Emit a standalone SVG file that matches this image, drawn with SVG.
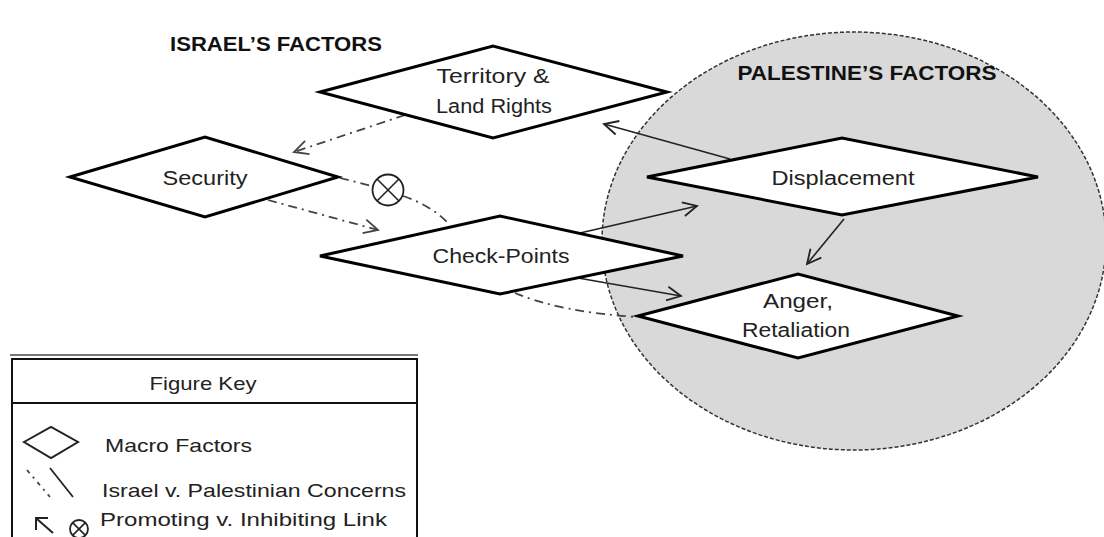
<svg xmlns="http://www.w3.org/2000/svg" width="1104" height="537" viewBox="0 0 1104 537">
<defs>
<style>
.node{fill:#fff;stroke:#000;stroke-width:3;stroke-linejoin:miter}
.lbl{font-family:"Liberation Sans",Arial,sans-serif;font-size:20px;fill:#222;text-anchor:middle}
.ttl{font-family:"Liberation Sans",Arial,sans-serif;font-size:21px;font-weight:bold;fill:#111;text-anchor:middle}
.key{font-family:"Liberation Sans",Arial,sans-serif;font-size:19px;fill:#222}
.solid{fill:none;stroke:#222;stroke-width:1.6}
.dd{fill:none;stroke:#444;stroke-width:1.8;stroke-dasharray:9,5,2,5}
</style>
<marker id="ah" markerUnits="userSpaceOnUse" markerWidth="20" markerHeight="20" refX="15" refY="8" orient="auto" viewBox="0 0 20 16">
<path d="M1,1 L15,8 L1,15" fill="none" stroke="#222" stroke-width="1.8"/>
</marker>
<marker id="ahd" markerUnits="userSpaceOnUse" markerWidth="20" markerHeight="20" refX="15" refY="8" orient="auto" viewBox="0 0 20 16">
<path d="M1,1 L15,8 L1,15" fill="none" stroke="#444" stroke-width="1.8"/>
</marker>
</defs>
<rect width="1104" height="537" fill="#fff"/>

<g id="palestine-region">
<ellipse cx="854" cy="241" rx="252" ry="209" fill="#d9d9d9" stroke="#333" stroke-width="1.5" stroke-dasharray="4,2"/>
</g>

<g id="titles">
<text class="ttl" x="276" y="51" textLength="212" lengthAdjust="spacingAndGlyphs">ISRAEL’S FACTORS</text>
<text class="ttl" x="867" y="80" textLength="259" lengthAdjust="spacingAndGlyphs">PALESTINE’S FACTORS</text>
</g>

<g id="connectors">
<path class="dd" d="M405,115 L294,152" marker-end="url(#ahd)"/>
<path class="dd" d="M268,200 L378,230" marker-end="url(#ahd)"/>
<path class="dd" d="M340,178 L372,186"/>
<path class="dd" d="M403,196 Q430,205 447,222"/>
<path class="dd" d="M515,293 Q560,312 637,317"/>
<path class="solid" d="M580,233 L697,206" marker-end="url(#ah)"/>
<path class="solid" d="M578,278 L681,296" marker-end="url(#ah)"/>
<path class="solid" d="M730,159 L604,124" marker-end="url(#ah)"/>
<path class="solid" d="M844,219 L807,264" marker-end="url(#ah)"/>
<g id="inhibit">
<circle cx="388" cy="190" r="15.5" fill="#fff" stroke="#222" stroke-width="1.8"/>
<path d="M377,179 L399,201 M399,179 L377,201" stroke="#222" stroke-width="1.6"/>
</g>
</g>

<g id="territory">
<polygon class="node" points="320,92 493,46 667,92 493,138"/>
<text class="lbl" x="493" y="83" textLength="113" lengthAdjust="spacingAndGlyphs">Territory &amp;</text>
<text class="lbl" x="494" y="113" textLength="116" lengthAdjust="spacingAndGlyphs">Land Rights</text>
</g>

<g id="security">
<polygon class="node" points="70,177 205,137 338,177 205,217"/>
<text class="lbl" x="205" y="185" textLength="85" lengthAdjust="spacingAndGlyphs">Security</text>
</g>

<g id="checkpoints">
<polygon class="node" points="320,256 500,216 683,256 500,294"/>
<text class="lbl" x="501" y="263" textLength="137" lengthAdjust="spacingAndGlyphs">Check-Points</text>
</g>

<g id="displacement">
<polygon class="node" points="647,177 842,138 1038,177 842,215"/>
<text class="lbl" x="843" y="185" textLength="143" lengthAdjust="spacingAndGlyphs">Displacement</text>
</g>

<g id="anger">
<polygon class="node" points="638,316 798,274 958,316 798,358"/>
<text class="lbl" x="798" y="308" textLength="70" lengthAdjust="spacingAndGlyphs">Anger,</text>
<text class="lbl" x="796" y="337" textLength="108" lengthAdjust="spacingAndGlyphs">Retaliation</text>
</g>

<g id="figure-key">
<line x1="10" y1="355" x2="418" y2="355" stroke="#777" stroke-width="2"/>
<rect x="12" y="359" width="405" height="190" fill="#fff" stroke="#111" stroke-width="2"/>
<line x1="12" y1="403" x2="417" y2="403" stroke="#111" stroke-width="2"/>
<text class="key" x="203" y="390" text-anchor="middle" textLength="107" lengthAdjust="spacingAndGlyphs">Figure Key</text>
<polygon points="24,442 51,427 78,442 51,458" fill="#fff" stroke="#222" stroke-width="2"/>
<text class="key" x="105" y="452" textLength="147" lengthAdjust="spacingAndGlyphs">Macro Factors</text>
<path d="M27,470 L50,497" fill="none" stroke="#444" stroke-width="1.8" stroke-dasharray="4,5,2,5"/>
<path d="M50,468 L73,497" fill="none" stroke="#222" stroke-width="1.8"/>
<text class="key" x="102" y="497" textLength="304" lengthAdjust="spacingAndGlyphs">Israel v. Palestinian Concerns</text>
<path d="M53,533 L37,519" fill="none" stroke="#222" stroke-width="2"/>
<path d="M36,530 L36,518 L48,518" fill="none" stroke="#222" stroke-width="2"/>
<circle cx="79" cy="529" r="9" fill="#fff" stroke="#222" stroke-width="1.8"/>
<path d="M72.6,522.6 L85.4,535.4 M85.4,522.6 L72.6,535.4" stroke="#222" stroke-width="1.6"/>
<text class="key" x="100" y="526" textLength="287" lengthAdjust="spacingAndGlyphs">Promoting v. Inhibiting Link</text>
</g>
</svg>
